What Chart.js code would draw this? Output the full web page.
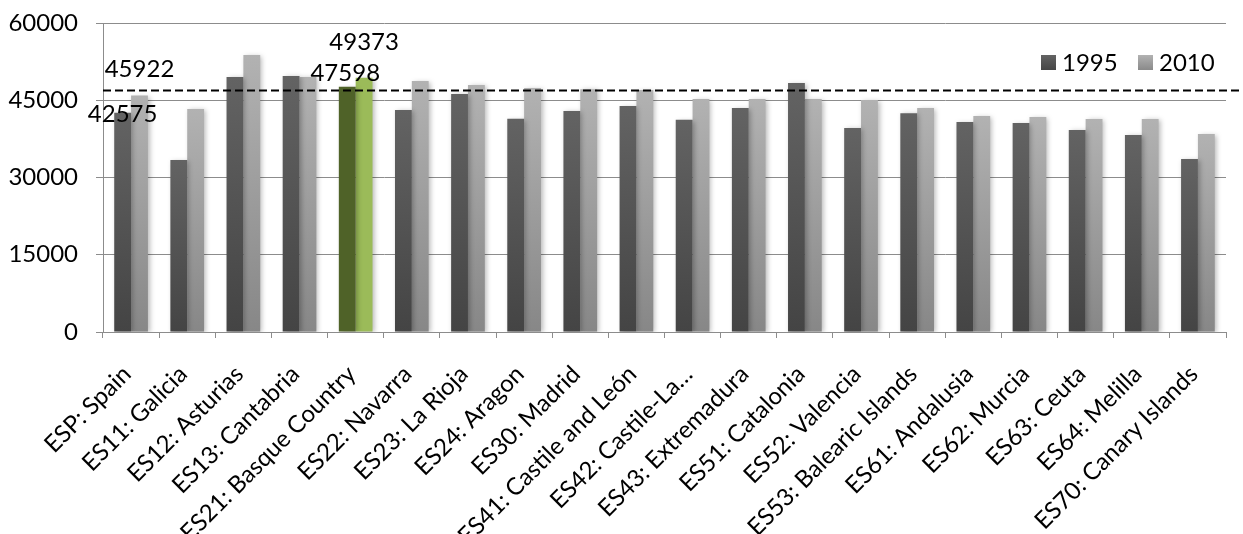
<!DOCTYPE html>
<html>
<head>
<meta charset="utf-8">
<script src="https://cdn.jsdelivr.net/npm/chart.js@4.4.1/dist/chart.umd.min.js"></script>
<style>
  html, body { margin: 0; padding: 0; background: #ffffff; overflow: hidden; }
  #wrap { width: 1243px; height: 534px; position: relative; }
</style>
</head>
<body>
<div id="wrap"><canvas id="c" width="1243" height="534"></canvas></div>
<script>
// ---- data ----
const categories = [
  "ESP: Spain", "ES11: Galicia", "ES12: Asturias", "ES13: Cantabria",
  "ES21: Basque Country", "ES22: Navarra", "ES23: La Rioja", "ES24: Aragon",
  "ES30: Madrid", "ES41: Castile and León", "ES42: Castile-La…", "ES43: Extremadura",
  "ES51: Catalonia", "ES52: Valencia", "ES53: Balearic Islands", "ES61: Andalusia",
  "ES62: Murcia", "ES63: Ceuta", "ES64: Melilla", "ES70: Canary Islands"
];
const seriesNames = ["1995", "2010"];
const values1995 = [42575, 33400, 49500, 49700, 47598, 43100, 46200, 41400, 42900, 43900,
                    41200, 43500, 48350, 39600, 42500, 40800, 40600, 39200, 38250, 33600];
const values2010 = [45922, 43300, 53800, 49500, 49373, 48750, 47950, 47400, 47150, 47000,
                    45250, 45250, 45250, 45050, 43500, 41950, 41750, 41350, 41350, 38450];
const referenceValue = 46900;
const yTickValues = [0, 15000, 30000, 45000, 60000];
const highlightIndex = 4;
const labeledIndices = [0, 4];

// ---- styling ----
const FONT = "Lato, 'Open Sans', sans-serif";
const dark = { top: "#636363", bottom: "#444444" };
const light = { top: "#b2b2b2", bottom: "#878787" };
const greenDark = "#4f6228";
const greenLight = "#9bbb59";
// manual label offsets (styling) : [dx, dy] relative to bar top center
const labelOffsets = {
  "0-0": [0, 2], "1-0": [0, -26],
  "0-4": [-2, -14], "1-4": [0, -35]
};

function barFill(scheme, green) {
  return function (context) {
    const chart = context.chart;
    if (context.dataIndex === highlightIndex) return green;
    const area = chart.chartArea;
    if (!area || !chart.scales.y) return scheme.bottom;
    const v = context.raw;
    const yTop = chart.scales.y.getPixelForValue(v);
    const yBot = chart.scales.y.getPixelForValue(0);
    if (!isFinite(yTop) || !isFinite(yBot) || yTop === yBot) return scheme.bottom;
    const g = chart.ctx.createLinearGradient(0, yTop, 0, yBot);
    g.addColorStop(0, scheme.top);
    g.addColorStop(1, scheme.bottom);
    return g;
  };
}

const shadowPlugin = {
  id: "barShadow",
  beforeDatasetsDraw(chart) {
    const ctx = chart.ctx;
    ctx.save();
    ctx.shadowColor = "rgba(0,0,0,0.28)";
    ctx.shadowBlur = 5;
    ctx.shadowOffsetX = 2;
    ctx.shadowOffsetY = 1;
  },
  afterDatasetsDraw(chart) {
    chart.ctx.restore();
  }
};

const refLinePlugin = {
  id: "refLine",
  afterDatasetsDraw(chart) {
    const ctx = chart.ctx;
    const y = Math.round(chart.scales.y.getPixelForValue(referenceValue)) + 0.5;
    ctx.save();
    ctx.strokeStyle = "#000000";
    ctx.lineWidth = 2;
    ctx.setLineDash([8, 4]);
    ctx.beginPath();
    ctx.moveTo(chart.chartArea.left, y);
    ctx.lineTo(chart.width, y);
    ctx.stroke();
    ctx.restore();
  }
};

const dataLabelPlugin = {
  id: "dataLabels",
  afterDatasetsDraw(chart) {
    const ctx = chart.ctx;
    ctx.save();
    ctx.font = "24px " + FONT;
    ctx.fillStyle = "#000000";
    ctx.textAlign = "center";
    ctx.textBaseline = "middle";
    chart.data.datasets.forEach((ds, di) => {
      const meta = chart.getDatasetMeta(di);
      labeledIndices.forEach(i => {
        const el = meta.data[i];
        const off = labelOffsets[di + "-" + i] || [0, -14];
        ctx.fillText(String(ds.data[i]), el.x + off[0], el.y + off[1]);
      });
    });
    ctx.restore();
  }
};

const legendPlugin = {
  id: "insideLegend",
  afterDraw(chart) {
    const ctx = chart.ctx;
    ctx.save();
    ctx.font = "24px " + FONT;
    ctx.textBaseline = "middle";
    ctx.textAlign = "left";
    const cy = 63;
    const items = [
      { x: 1041, scheme: dark, text: seriesNames[0] },
      { x: 1138, scheme: light, text: seriesNames[1] }
    ];
    items.forEach(it => {
      const g = ctx.createLinearGradient(0, cy - 8, 0, cy + 8);
      g.addColorStop(0, it.scheme.top);
      g.addColorStop(1, it.scheme.bottom);
      ctx.fillStyle = g;
      ctx.fillRect(it.x, cy - 8, 15, 15);
      ctx.fillStyle = "#000000";
      ctx.fillText(it.text, it.x + 21, cy);
    });
    ctx.restore();
  }
};

new Chart(document.getElementById("c"), {
  type: "bar",
  data: {
    labels: categories,
    datasets: [
      { label: seriesNames[0], data: values1995, backgroundColor: barFill(dark, greenDark),
        barPercentage: 1.0, categoryPercentage: 0.6 },
      { label: seriesNames[1], data: values2010, backgroundColor: barFill(light, greenLight),
        barPercentage: 1.0, categoryPercentage: 0.6 }
    ]
  },
  options: {
    responsive: false,
    animation: false,
    layout: { padding: { top: 23, right: 17, left: 0, bottom: 0 } },
    plugins: {
      legend: { display: false },
      tooltip: { enabled: false }
    },
    scales: {
      x: {
        offset: true,
        grid: { display: true, offset: true, drawOnChartArea: false, drawTicks: true,
                tickLength: 6, color: "#8c8c8c", lineWidth: 1 },
        border: { display: true, color: "#8c8c8c", width: 1 },
        ticks: {
          autoSkip: false, minRotation: 45, maxRotation: 45,
          color: "#000000", font: { family: FONT, size: 24 },
          padding: 22, labelOffset: -4
        },
        afterFit(scale) { scale.height = 202; }
      },
      y: {
        min: 0, max: 60000,
        afterBuildTicks(scale) { scale.ticks = yTickValues.map(v => ({ value: v })); },
        grid: { color: "#8c8c8c", lineWidth: 1, tickLength: 7, drawTicks: true },
        border: { display: true, color: "#8c8c8c", width: 1 },
        ticks: {
          color: "#000000", font: { family: FONT, size: 24, lineHeight: 0.2 }, padding: 18,
          callback: v => String(v)
        },
        afterFit(scale) { scale.width = 103; }
      }
    }
  },
  plugins: [shadowPlugin, refLinePlugin, dataLabelPlugin, legendPlugin]
});
</script>
</body>
</html>
